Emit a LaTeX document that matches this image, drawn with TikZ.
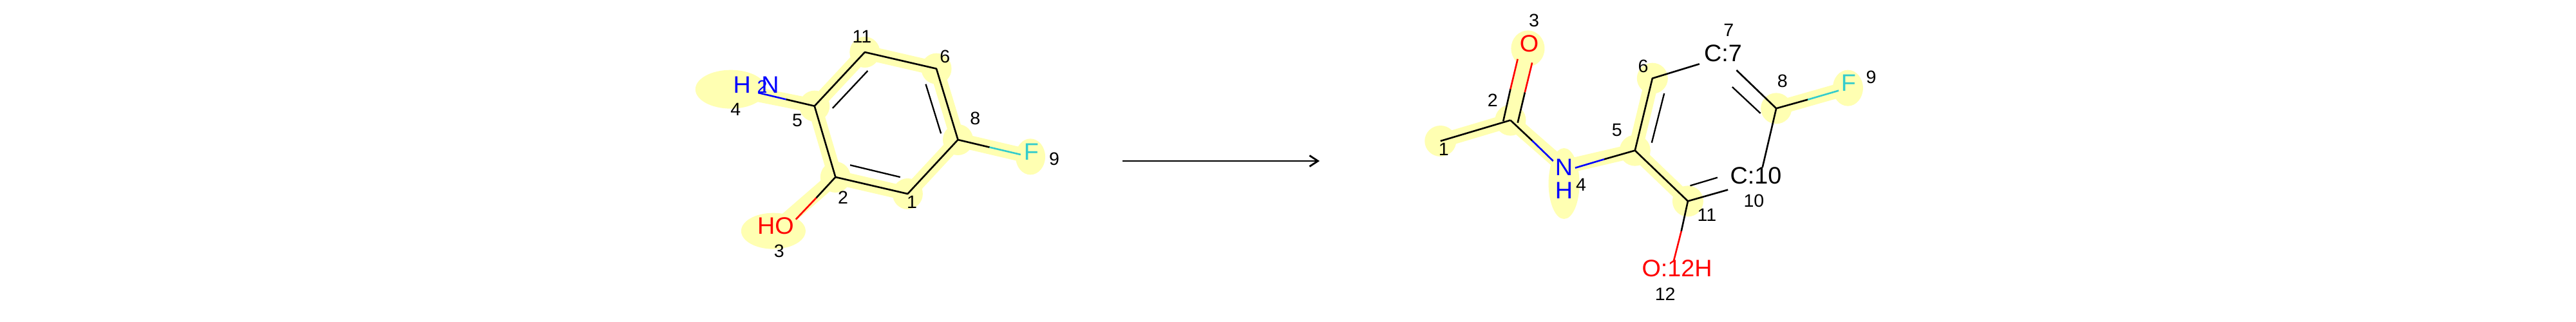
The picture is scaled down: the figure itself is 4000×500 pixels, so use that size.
\documentclass[tikz,border=0pt]{standalone}
\usepackage{fontspec}
\setmainfont[FakeStretch=1.02]{Liberation Sans}
\usetikzlibrary{arrows.meta}
\definecolor{hlyellow}{HTML}{FFFFB2}
\definecolor{fcyan}{HTML}{33CCCC}
\tikzset{
  hl/.style={line width=22pt,hlyellow,line cap=butt},
  hlblob/.style={fill=hlyellow,draw=none},
  bond/.style={line width=2.6pt,black,line cap=butt,line join=round},
  inner bond/.style={line width=2.3pt,black,line cap=butt},
  atomlab/.style={inner sep=0pt,font=\fontsize{37}{37}\selectfont},
  maplab/.style={inner sep=0pt,black,font=\fontsize{28}{28}\selectfont},
  leftmol/.style={shift={(1050,0)},x=0.44643pt,y=-0.33333pt},
  rightmol/.style={shift={(2150,0)},x=0.5102pt,y=-0.33333pt},
}
\newcommand{\blob}[3]{\fill[hlblob] (#1) ellipse [x radius=#2pt,y radius=#3pt];}
\begin{document}
\begin{tikzpicture}[x=1pt,y=-1pt]
\useasboundingbox (0,0) rectangle (4000,500);
\fill[white] (0,0) rectangle (4000,500);
% ---------- reactant ----------
\begin{scope}[leftmol]
\coordinate (Lc11) at (656,243);
\coordinate (Lc6) at (905,320);
\coordinate (Lc8) at (980,651);
\coordinate (Lc1) at (805,903);
\coordinate (Lc2) at (554,825);
\coordinate (Lc5) at (481,494);
\coordinate (Ln) at (285,432);
\coordinate (Lnm) at (382,463);
\coordinate (Lo) at (416,1022);
\coordinate (Lom) at (487,922);
\coordinate (Lf) at (1198,720);
\coordinate (Lfm) at (1090,686);
\coordinate (Li1a) at (544,504);
\coordinate (Li1b) at (666,330);
\coordinate (Li2a) at (868,392);
\coordinate (Li2b) at (921,622);
\coordinate (Li3a) at (605,769);
\coordinate (Li3b) at (779,825);
\coordinate (Lbn) at (190,416);
\coordinate (Lbo) at (338,1076);
\coordinate (Lbf) at (1232,730);
\draw[hl] (Lc5)--(Lc11); \draw[hl] (Lc11)--(Lc6); \draw[hl] (Lc6)--(Lc8);
\draw[hl] (Lc8)--(Lc1); \draw[hl] (Lc1)--(Lc2); \draw[hl] (Lc2)--(Lc5);
\draw[hl] (Lc5)--(Lbn); \draw[hl] (Lc2)--(Lbo); \draw[hl] (Lc8)--(Lbf);
\blob{Lc11}{23.5}{24}\blob{Lc6}{23.5}{24}\blob{Lc8}{23.5}{24}
\blob{Lc1}{23.5}{24}\blob{Lc2}{23.5}{24}\blob{Lc5}{23.5}{24}
\blob{Lbn}{55}{30}\blob{Lbo}{50}{28}\blob{Lbf}{23}{28}
\draw[bond] (Lc5)--(Lc11)--(Lc6)--(Lc8)--(Lc1)--(Lc2)--(Lc5);
\draw[inner bond] (Li1a)--(Li1b);
\draw[inner bond] (Li2a)--(Li2b);
\draw[inner bond] (Li3a)--(Li3b);
\draw[bond] (Lc5)--(Lnm); \draw[bond,blue] (Lnm)--(Ln);
\draw[bond] (Lc2)--(Lom); \draw[bond,red] (Lom)--(Lo);
\draw[bond] (Lc8)--(Lfm); \draw[bond,fcyan] (Lfm)--(Lf);
\node[atomlab,blue] (LlabH) at (229,395) {H};
\node[atomlab,blue] (LlabN) at (327,395) {N};
\node[maplab,blue] (Llab2) at (299,405) {2};
\node[atomlab,red] (LlabHO) at (346,1052) {HO};
\node[atomlab,fcyan] (LlabF) at (1235,707) {F};
\node[maplab] (Lm11) at (646,172) {11};
\node[maplab] (Lm6) at (935,265) {6};
\node[maplab] (Lm8) at (1040,551) {8};
\node[maplab] (Lm9) at (1315,741) {9};
\node[maplab] (Lm1) at (820,942) {1};
\node[maplab] (Lm2) at (580,920) {2};
\node[maplab] (Lm5) at (421,562) {5};
\node[maplab] (Lm4) at (207,510) {4};
\node[maplab] (Lm3) at (358,1170) {3};
\end{scope}
% ---------- arrow ----------
\coordinate (arrS) at (1743,250);
\coordinate (arrE) at (2049,250);
\draw[line width=2.8pt,-{Straight Barb[length=13pt,width=17pt,line width=2.8pt]}] (arrS)--(arrE);
% ---------- product ----------
\begin{scope}[rightmol]
\coordinate (Rc1) at (170,657);
\coordinate (Rc2) at (383,560);
\coordinate (Rc5) at (762,701);
\coordinate (Rc6) at (815,365);
\coordinate (Rc8) at (1192,505);
\coordinate (Rc11) at (923,937);
\coordinate (Rn1) at (513,750);
\coordinate (Rn1m) at (449,655);
\coordinate (Rn2) at (580,782);
\coordinate (Rn2m) at (668,742);
\coordinate (Ro1a) at (361,565);
\coordinate (Ro1m) at (383,415);
\coordinate (Ro1b) at (405,275);
\coordinate (Ro2a) at (405,572);
\coordinate (Ro2m) at (427,430);
\coordinate (Ro2b) at (449,292);
\coordinate (Rc7e) at (958,298);
\coordinate (Rc7f) at (1071,327);
\coordinate (Ri8a) at (1058,405);
\coordinate (Ri8b) at (1144,528);
\coordinate (Rfm) at (1288,464);
\coordinate (Rf) at (1382,422);
\coordinate (Rc10a) at (1150,780);
\coordinate (Rc10b) at (1045,884);
\coordinate (Ri10a) at (930,865);
\coordinate (Ri10b) at (1013,827);
\coordinate (Ri5a) at (813,665);
\coordinate (Ri5b) at (851,435);
\coordinate (Rom) at (903,1077);
\coordinate (Ro) at (880,1215);
\coordinate (Rbo) at (436,226);
\coordinate (Rbn) at (546,855);
\coordinate (Rbnc) at (546,778);
\coordinate (Rbf) at (1410,410);
\draw[hl] (Rc1)--(Rc2); \draw[hl] (Rc2)--(Rbo); \draw[hl] (Rc2)--(Rbnc);
\draw[hl] (Rbnc)--(Rc5); \draw[hl] (Rc5)--(Rc6); \draw[hl] (Rc5)--(Rc11);
\draw[hl] (Rc8)--(Rbf);
\blob{Rc1}{24.5}{24}\blob{Rc2}{24}{24}\blob{Rc5}{24}{24}\blob{Rc6}{24}{24}
\blob{Rc8}{24}{24}\blob{Rc11}{24}{24}
\blob{Rbo}{26}{28}\blob{Rbn}{24}{55}\blob{Rbf}{23.5}{28}
\draw[bond] (Rc1)--(Rc2);
\draw[bond] (Ro1a)--(Ro1m); \draw[bond,red] (Ro1m)--(Ro1b);
\draw[bond] (Ro2a)--(Ro2m); \draw[bond,red] (Ro2m)--(Ro2b);
\draw[bond] (Rc2)--(Rn1m); \draw[bond,blue] (Rn1m)--(Rn1);
\draw[bond] (Rc5)--(Rn2m); \draw[bond,blue] (Rn2m)--(Rn2);
\draw[bond] (Rc11)--(Rc5)--(Rc6)--(Rc7e);
\draw[inner bond] (Ri5a)--(Ri5b);
\draw[bond] (Rc7f)--(Rc8)--(Rc10a);
\draw[inner bond] (Ri8a)--(Ri8b);
\draw[bond] (Rc8)--(Rfm); \draw[bond,fcyan] (Rfm)--(Rf);
\draw[bond] (Rc11)--(Rc10b);
\draw[inner bond] (Ri10a)--(Ri10b);
\draw[bond] (Rc11)--(Rom); \draw[bond,red] (Rom)--(Ro);
\node[atomlab,red] (RlabO) at (440,203) {O};
\node[atomlab,blue] (RlabN) at (546,778) {N};
\node[atomlab,blue] (RlabH) at (546,888) {H};
\node[atomlab,fcyan] (RlabF) at (1412,385) {F};
\node[atomlab] (RlabC7) at (1030,248) {C:7};
\node[atomlab] (RlabC10) at (1130,818) {C:10};
\node[atomlab,red] (RlabO12) at (890,1250) {O:12H};
\node[maplab] (Rm3) at (455,97) {3};
\node[maplab] (Rm2) at (329,467) {2};
\node[maplab] (Rm1) at (180,697) {1};
\node[maplab] (Rm4) at (598,862) {4};
\node[maplab] (Rm5) at (707,606) {5};
\node[maplab] (Rm6) at (787,310) {6};
\node[maplab] (Rm7) at (1047,140) {7};
\node[maplab] (Rm8) at (1211,379) {8};
\node[maplab] (Rm9) at (1481,360) {9};
\node[maplab] (Rm10) at (1124,937) {10};
\node[maplab] (Rm11) at (981,1003) {11};
\node[maplab] (Rm12) at (854,1370) {12};
\end{scope}
\end{tikzpicture}
\end{document}
